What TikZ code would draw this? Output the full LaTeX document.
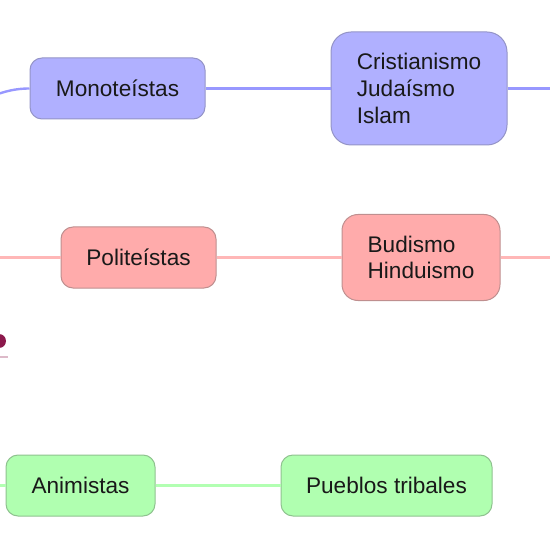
\documentclass[tikz,border=0pt]{standalone}
\usepackage{fontspec}
\setmainfont{Liberation Sans}
\definecolor{monofill}{rgb}{0.69, 0.69, 1.00}
\definecolor{monoline}{rgb}{0.58, 0.58, 0.78}
\definecolor{polyfill}{rgb}{1.00, 0.67, 0.67}
\definecolor{polyline}{rgb}{0.75, 0.56, 0.56}
\definecolor{animfill}{rgb}{0.69, 1.00, 0.69}
\definecolor{animline}{rgb}{0.56, 0.76, 0.56}
\definecolor{maroonmark}{rgb}{0.55, 0.10, 0.30}

\begin{document}
\begin{tikzpicture}[x=0.5pt, y=-0.5pt]
% Define styles
\tikzset{
  branch/.style={rounded corners=6pt, draw=#1line, fill=#1fill, line width=0.5pt,
    inner sep=0pt, align=left, text=black!90,
    font=\fontsize{11.3}{13.3}\selectfont},
  link/.style={line width=1.2pt, draw=#1}
}

% Frame
\useasboundingbox (0,0) rectangle (550,550);
\clip (0,0) rectangle (550,550);

% Monoteistas
\node[branch=mono, minimum width=87.5pt, minimum height=30.5pt] (mono) at (117.5,88.5) {Monoteístas};
\node[branch=mono, rounded corners=10pt, minimum width=88pt, minimum height=56.5pt] (monoex) at (419,88.5) {Cristianismo\\Judaísmo\\Islam};
\coordinate (monoin) at (-60,115);
\coordinate (monoout) at (560,88.5);
\draw[link=monofill!80!blue!90] (monoin) to[out=10, in=180] (mono.west);
\draw[link=monofill!80!blue!90] (mono.east) -- (monoex.west);
\draw[link=monofill!80!blue!90] (monoex.east) -- (monoout);

% Politeistas
\node[branch=poly, minimum width=77.5pt, minimum height=30.5pt] (poly) at (138.5,257.5) {Politeístas};
\node[branch=poly, rounded corners=8pt, minimum width=79pt, minimum height=43pt] (polyex) at (421,257.5) {Budismo\\Hinduismo};
\coordinate (polyin) at (-10,257.5);
\coordinate (polyout) at (560,257.5);
\draw[link=polyfill!85] (polyin) -- (poly.west);
\draw[link=polyfill!85] (poly.east) -- (polyex.west);
\draw[link=polyfill!85] (polyex.east) -- (polyout);

% Animistas
\node[branch=anim, minimum width=74.5pt, minimum height=30.5pt] (anim) at (80.5,485.5) {Animistas};
\node[branch=anim, minimum width=105.5pt, minimum height=30.5pt] (animex) at (386.5,485.5) {Pueblos tribales};
\coordinate (animin) at (-10,485.5);
\draw[link=animfill!90!green!80] (animin) -- (anim.west);
\draw[link=animfill!90!green!80] (anim.east) -- (animex.west);

% Mark at the left edge
\fill[maroonmark] (-1,341) circle (7);
\draw[maroonmark!30, line width=1pt] (0,357) -- (8,357);
\end{tikzpicture}
\end{document}
